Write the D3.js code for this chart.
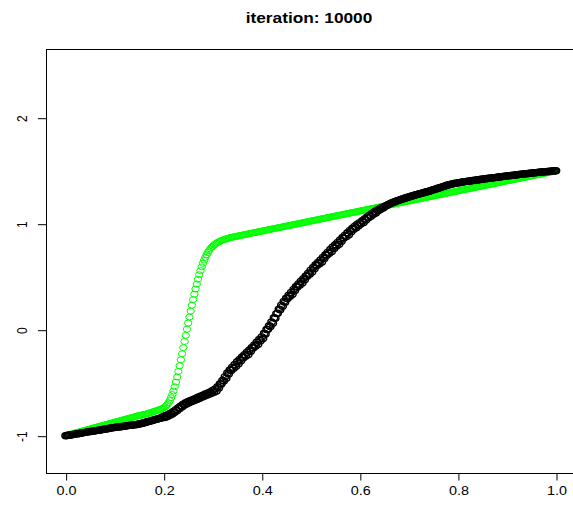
<!DOCTYPE html>
<html>
<head>
<meta charset="utf-8">
<script src="https://cdn.jsdelivr.net/npm/d3@7/dist/d3.min.js"></script>
<style>
  html, body { margin: 0; padding: 0; background: #fff; }
  svg { display: block; }
  text { font-family: "Liberation Sans", Arial, Helvetica, sans-serif; }
</style>
</head>
<body>
<script>
// Chart title and tick labels
const titleText = "iteration: 10000";
const xTicks = [0, 0.2, 0.4, 0.6, 0.8, 1.0];
const yTicks = [-1, 0, 1, 2];

// Common x positions shared by both series
const xGrid = [
  0,0.0025,0.005,0.0075,0.01,0.0125,0.015,0.0175,0.02,0.0225,0.025,0.0275,0.03,0.0325,0.035,0.0375,0.04,0.0425,0.045,0.0475,
  0.05,0.0525,0.055,0.0575,0.06,0.0625,0.065,0.0675,0.07,0.0725,0.075,0.0775,0.08,0.0825,0.085,0.0875,0.09,0.0925,0.095,0.0975,
  0.1,0.1025,0.105,0.1075,0.11,0.1125,0.115,0.1175,0.12,0.1225,0.125,0.1275,0.13,0.1325,0.135,0.1375,0.14,0.1425,0.145,0.1475,
  0.15,0.1525,0.155,0.1575,0.16,0.1625,0.165,0.1675,0.17,0.1725,0.175,0.1775,0.18,0.1825,0.185,0.1875,0.19,0.1925,0.195,0.1975,
  0.2,0.2025,0.205,0.2075,0.21,0.2125,0.215,0.2175,0.22,0.2225,0.225,0.2275,0.23,0.2325,0.235,0.2375,0.24,0.2425,0.245,0.2475,
  0.25,0.2525,0.255,0.2575,0.26,0.2625,0.265,0.2675,0.27,0.2725,0.275,0.2775,0.28,0.2825,0.285,0.2875,0.29,0.2925,0.295,0.2975,
  0.3,0.3025,0.305,0.3075,0.31,0.3125,0.315,0.3175,0.32,0.3225,0.325,0.3275,0.33,0.3325,0.335,0.3375,0.34,0.3425,0.345,0.3475,
  0.35,0.3525,0.355,0.3575,0.36,0.3625,0.365,0.3675,0.37,0.3725,0.375,0.3775,0.38,0.3825,0.385,0.3875,0.39,0.3925,0.395,0.3975,
  0.4,0.4025,0.405,0.4075,0.41,0.4125,0.415,0.4175,0.42,0.4225,0.425,0.4275,0.43,0.4325,0.435,0.4375,0.44,0.4425,0.445,0.4475,
  0.45,0.4525,0.455,0.4575,0.46,0.4625,0.465,0.4675,0.47,0.4725,0.475,0.4775,0.48,0.4825,0.485,0.4875,0.49,0.4925,0.495,0.4975,
  0.5,0.5025,0.505,0.5075,0.51,0.5125,0.515,0.5175,0.52,0.5225,0.525,0.5275,0.53,0.5325,0.535,0.5375,0.54,0.5425,0.545,0.5475,
  0.55,0.5525,0.555,0.5575,0.56,0.5625,0.565,0.5675,0.57,0.5725,0.575,0.5775,0.58,0.5825,0.585,0.5875,0.59,0.5925,0.595,0.5975,
  0.6,0.6025,0.605,0.6075,0.61,0.6125,0.615,0.6175,0.62,0.6225,0.625,0.6275,0.63,0.6325,0.635,0.6375,0.64,0.6425,0.645,0.6475,
  0.65,0.6525,0.655,0.6575,0.66,0.6625,0.665,0.6675,0.67,0.6725,0.675,0.6775,0.68,0.6825,0.685,0.6875,0.69,0.6925,0.695,0.6975,
  0.7,0.7025,0.705,0.7075,0.71,0.7125,0.715,0.7175,0.72,0.7225,0.725,0.7275,0.73,0.7325,0.735,0.7375,0.74,0.7425,0.745,0.7475,
  0.75,0.7525,0.755,0.7575,0.76,0.7625,0.765,0.7675,0.77,0.7725,0.775,0.7775,0.78,0.7825,0.785,0.7875,0.79,0.7925,0.795,0.7975,
  0.8,0.8025,0.805,0.8075,0.81,0.8125,0.815,0.8175,0.82,0.8225,0.825,0.8275,0.83,0.8325,0.835,0.8375,0.84,0.8425,0.845,0.8475,
  0.85,0.8525,0.855,0.8575,0.86,0.8625,0.865,0.8675,0.87,0.8725,0.875,0.8775,0.88,0.8825,0.885,0.8875,0.89,0.8925,0.895,0.8975,
  0.9,0.9025,0.905,0.9075,0.91,0.9125,0.915,0.9175,0.92,0.9225,0.925,0.9275,0.93,0.9325,0.935,0.9375,0.94,0.9425,0.945,0.9475,
  0.95,0.9525,0.955,0.9575,0.96,0.9625,0.965,0.9675,0.97,0.9725,0.975,0.9775,0.98,0.9825,0.985,0.9875,0.99,0.9925,0.995,0.9975,
  1
];

// Green series values
const greenY = [
  -1.000,-0.997,-0.994,-0.990,-0.987,-0.984,-0.981,-0.978,-0.975,-0.971,-0.968,-0.965,-0.962,-0.959,-0.956,-0.952,-0.949,-0.946,-0.943,-0.940,
  -0.937,-0.933,-0.930,-0.927,-0.924,-0.921,-0.918,-0.914,-0.911,-0.908,-0.905,-0.902,-0.899,-0.895,-0.892,-0.889,-0.886,-0.883,-0.880,-0.876,
  -0.873,-0.870,-0.867,-0.864,-0.861,-0.857,-0.854,-0.851,-0.848,-0.845,-0.842,-0.838,-0.835,-0.832,-0.829,-0.826,-0.823,-0.819,-0.816,-0.813,
  -0.810,-0.808,-0.805,-0.803,-0.800,-0.798,-0.795,-0.792,-0.788,-0.784,-0.780,-0.776,-0.772,-0.769,-0.765,-0.761,-0.757,-0.753,-0.748,-0.743,
  -0.738,-0.728,-0.718,-0.705,-0.690,-0.668,-0.642,-0.612,-0.578,-0.538,-0.494,-0.446,-0.394,-0.340,-0.284,-0.227,-0.169,-0.111,-0.053,0.005,
  0.063,0.120,0.176,0.231,0.284,0.335,0.384,0.431,0.476,0.518,0.557,0.593,0.626,0.656,0.683,0.707,0.728,0.746,0.762,0.776,
  0.788,0.799,0.808,0.816,0.823,0.829,0.835,0.840,0.845,0.849,0.853,0.857,0.861,0.864,0.867,0.870,0.873,0.875,0.878,0.880,
  0.882,0.885,0.887,0.890,0.892,0.894,0.897,0.899,0.901,0.904,0.906,0.909,0.911,0.913,0.916,0.918,0.920,0.923,0.925,0.927,
  0.930,0.932,0.935,0.937,0.939,0.942,0.944,0.946,0.949,0.951,0.954,0.956,0.958,0.961,0.963,0.965,0.968,0.970,0.972,0.975,
  0.977,0.980,0.982,0.984,0.987,0.989,0.991,0.994,0.996,0.998,1.001,1.003,1.006,1.008,1.010,1.013,1.015,1.017,1.020,1.022,
  1.025,1.027,1.029,1.032,1.034,1.036,1.039,1.041,1.043,1.046,1.048,1.051,1.053,1.055,1.058,1.060,1.062,1.065,1.067,1.070,
  1.072,1.074,1.077,1.079,1.081,1.084,1.086,1.088,1.091,1.093,1.096,1.098,1.100,1.103,1.105,1.107,1.110,1.112,1.114,1.117,
  1.119,1.122,1.124,1.126,1.129,1.131,1.133,1.136,1.138,1.141,1.143,1.145,1.148,1.150,1.152,1.155,1.157,1.159,1.162,1.164,
  1.167,1.169,1.171,1.174,1.176,1.178,1.181,1.183,1.186,1.188,1.190,1.193,1.195,1.197,1.200,1.202,1.204,1.207,1.209,1.212,
  1.214,1.216,1.219,1.221,1.223,1.226,1.228,1.231,1.233,1.235,1.238,1.240,1.242,1.245,1.247,1.249,1.252,1.254,1.257,1.259,
  1.261,1.264,1.266,1.268,1.271,1.273,1.276,1.278,1.280,1.283,1.285,1.287,1.290,1.292,1.294,1.297,1.299,1.302,1.304,1.306,
  1.309,1.311,1.313,1.316,1.318,1.320,1.323,1.325,1.328,1.330,1.332,1.335,1.337,1.339,1.342,1.344,1.347,1.349,1.351,1.354,
  1.356,1.358,1.361,1.363,1.365,1.368,1.370,1.373,1.375,1.377,1.380,1.382,1.384,1.387,1.389,1.391,1.394,1.396,1.399,1.401,
  1.403,1.406,1.408,1.410,1.413,1.415,1.418,1.420,1.422,1.425,1.427,1.429,1.432,1.434,1.436,1.439,1.441,1.444,1.446,1.448,
  1.451,1.453,1.455,1.458,1.460,1.463,1.465,1.467,1.470,1.472,1.474,1.477,1.479,1.481,1.484,1.486,1.489,1.491,1.493,1.496,
  1.498
];

// Black series values
const blackY = [
  -1.000,-0.998,-0.996,-0.995,-0.993,-0.991,-0.989,-0.987,-0.985,-0.983,-0.981,-0.979,-0.977,-0.975,-0.973,-0.971,-0.969,-0.966,-0.964,-0.962,
  -0.960,-0.959,-0.957,-0.955,-0.953,-0.952,-0.950,-0.948,-0.946,-0.944,-0.942,-0.940,-0.938,-0.936,-0.934,-0.932,-0.930,-0.928,-0.926,-0.924,
  -0.922,-0.921,-0.919,-0.918,-0.916,-0.915,-0.913,-0.912,-0.910,-0.909,-0.907,-0.905,-0.903,-0.902,-0.900,-0.899,-0.897,-0.896,-0.894,-0.892,
  -0.890,-0.887,-0.884,-0.881,-0.878,-0.875,-0.871,-0.868,-0.865,-0.862,-0.858,-0.855,-0.851,-0.848,-0.845,-0.842,-0.838,-0.835,-0.832,-0.829,
  -0.817,-0.829,-0.808,-0.819,-0.797,-0.807,-0.785,-0.795,-0.772,-0.779,-0.754,-0.762,-0.737,-0.744,-0.719,-0.727,-0.702,-0.711,-0.689,-0.699,
  -0.677,-0.688,-0.667,-0.678,-0.657,-0.669,-0.648,-0.658,-0.637,-0.649,-0.628,-0.638,-0.617,-0.628,-0.607,-0.618,-0.597,-0.609,-0.588,-0.599,
  -0.573,-0.590,-0.558,-0.578,-0.538,-0.549,-0.510,-0.512,-0.478,-0.484,-0.443,-0.457,-0.408,-0.418,-0.380,-0.384,-0.353,-0.364,-0.328,-0.345,
  -0.303,-0.322,-0.281,-0.293,-0.258,-0.264,-0.235,-0.248,-0.213,-0.234,-0.191,-0.203,-0.168,-0.172,-0.143,-0.154,-0.118,-0.137,-0.093,-0.104,
  -0.068,-0.082,-0.034,-0.040,0.002,0.003,0.037,0.030,0.072,0.060,0.112,0.108,0.152,0.156,0.194,0.189,0.232,0.220,0.267,0.258,
  0.297,0.294,0.325,0.315,0.352,0.335,0.380,0.370,0.407,0.403,0.432,0.421,0.457,0.440,0.482,0.471,0.507,0.504,0.534,0.524,
  0.562,0.544,0.587,0.576,0.612,0.606,0.634,0.622,0.657,0.639,0.682,0.671,0.707,0.703,0.732,0.721,0.757,0.738,0.780,0.767,
  0.802,0.789,0.824,0.805,0.847,0.835,0.870,0.864,0.892,0.880,0.915,0.896,0.937,0.923,0.957,0.948,0.977,0.962,0.995,0.980,
  1.010,0.999,1.028,1.012,1.045,1.034,1.063,1.057,1.080,1.069,1.096,1.089,1.113,1.100,1.127,1.121,1.141,1.136,1.153,1.149,
  1.160,1.167,1.173,1.179,1.185,1.190,1.195,1.200,1.205,1.210,1.214,1.218,1.222,1.226,1.230,1.234,1.238,1.242,1.245,1.249,
  1.252,1.256,1.259,1.263,1.266,1.270,1.273,1.277,1.280,1.283,1.286,1.289,1.292,1.296,1.299,1.302,1.305,1.309,1.313,1.317,
  1.320,1.324,1.328,1.332,1.335,1.339,1.343,1.347,1.350,1.354,1.358,1.362,1.365,1.368,1.371,1.374,1.376,1.379,1.381,1.383,
  1.385,1.387,1.389,1.391,1.393,1.395,1.397,1.399,1.400,1.402,1.403,1.405,1.407,1.409,1.410,1.412,1.413,1.415,1.417,1.419,
  1.420,1.422,1.423,1.425,1.426,1.428,1.429,1.431,1.432,1.434,1.435,1.437,1.438,1.440,1.441,1.443,1.444,1.446,1.447,1.449,
  1.450,1.452,1.453,1.455,1.456,1.457,1.458,1.460,1.461,1.463,1.464,1.466,1.467,1.468,1.469,1.471,1.472,1.474,1.475,1.477,
  1.478,1.479,1.480,1.481,1.482,1.484,1.485,1.486,1.487,1.488,1.489,1.490,1.491,1.492,1.493,1.495,1.496,1.497,1.498,1.499,
  1.500
];

const W = 573, H = 512;
const plot = { left: 46, right: 575.6, top: 49, bottom: 473 };
const stretch = 1.2;   // horizontal stretch of glyphs and symbols

const svg = d3.select("body").append("svg")
  .attr("width", W).attr("height", H);

const x = d3.scaleLinear().domain([-0.04, 1.04]).range([plot.left, plot.right]);
const y = d3.scaleLinear().domain([-1.352, 2.648]).range([plot.bottom, plot.top]);

const greenPts = xGrid.map((v, i) => [v, greenY[i]]);
const blackPts = xGrid.map((v, i) => [v, blackY[i]]);

function drawPoints(data, color, sw) {
  svg.append("g").selectAll("ellipse").data(data).join("ellipse")
    .attr("cx", d => x(d[0]))
    .attr("cy", d => y(d[1]))
    .attr("rx", 3.7)
    .attr("ry", 3.0)
    .attr("fill", "none")
    .attr("stroke", color)
    .attr("stroke-width", sw);
}
drawPoints(greenPts, "#00ff00", 1);
drawPoints(blackPts, "#000000", 1.4);

// Plot frame
svg.append("rect")
  .attr("x", plot.left + 0.5).attr("y", plot.top + 0.5)
  .attr("width", plot.right - plot.left).attr("height", plot.bottom - plot.top)
  .attr("fill", "none").attr("stroke", "#000").attr("stroke-width", 1);

// X axis
const gx = svg.append("g")
  .attr("transform", `translate(0.5,${plot.bottom + 0.5})`)
  .call(d3.axisBottom(x).tickValues(xTicks).tickFormat(d3.format(".1f")).tickSize(7).tickSizeOuter(0));
gx.select(".domain").remove();
gx.selectAll(".tick line").attr("stroke", "#000");
gx.selectAll(".tick text")
  .attr("y", 0).attr("dy", null)
  .attr("transform", `translate(0,21) scale(${stretch},1)`)
  .attr("fill", "#000")
  .style("font-size", "12px")
  .style("font-family", "'Liberation Sans', Arial, sans-serif");

// Y axis
const gy = svg.append("g")
  .attr("transform", `translate(${plot.left + 0.5},0.5)`)
  .call(d3.axisLeft(y).tickValues(yTicks).tickFormat(d3.format("d")).tickSize(8.6).tickSizeOuter(0));
gy.select(".domain").remove();
gy.selectAll(".tick line").attr("stroke", "#000");
gy.selectAll(".tick text")
  .attr("x", null).attr("dy", null).attr("y", null)
  .attr("text-anchor", "middle")
  .attr("transform", `translate(-20,0) scale(${stretch},1) rotate(-90)`)
  .attr("fill", "#000")
  .style("font-size", "12px")
  .style("font-family", "'Liberation Sans', Arial, sans-serif")
  .text(d => d < 0 ? "-" + Math.abs(d) : String(d));

// Title
svg.append("text")
  .attr("text-anchor", "middle")
  .attr("transform", `translate(309,23) scale(${stretch},1)`)
  .style("font-size", "14.4px")
  .style("font-weight", "bold")
  .text(titleText);
</script>
</body>
</html>
